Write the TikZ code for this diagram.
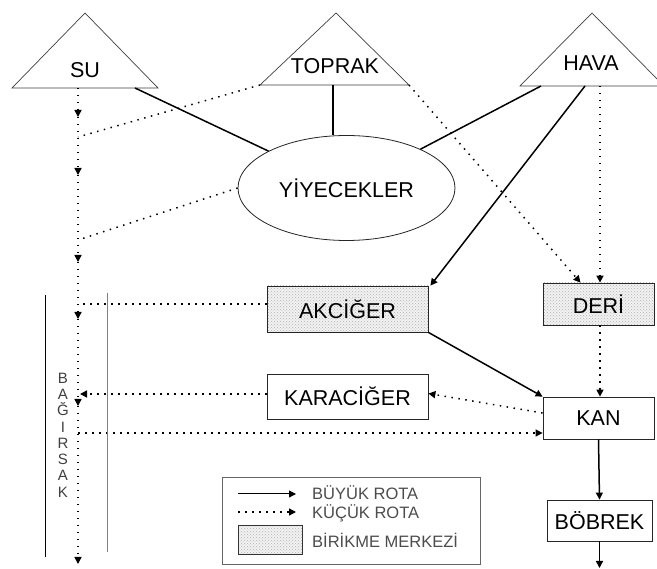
\documentclass[tikz,border=0pt]{standalone}
\usepackage{fontspec}
\setmainfont{Liberation Sans}
\usetikzlibrary{arrows.meta,patterns,shapes.geometric}
\begin{document}
\begin{tikzpicture}[x=1pt,y=-1pt,
  lbl/.style={font=\fontsize{21.5}{21.5}\selectfont},
  thinlbl/.style={font=\fontsize{16.5}{16.5}\selectfont, text=black!70},
  tri/.style={draw=black!75, line width=0.7pt},
  box/.style={draw=black!85, line width=0.8pt, inner sep=0pt, lbl},
  shaded/.style={preaction={fill=gray!10}, pattern=crosshatch dots, pattern color=gray!60},
  big/.style={line width=1.5pt},
  small/.style={line width=1.5pt, dash pattern=on 1.5pt off 5.5pt},
  tip/.style={-{Triangle[length=7pt,width=7pt]}},
]
\useasboundingbox (0,0) rectangle (657,569);
\clip (0,0) rectangle (657,569);
\fill[white] (0,0) rectangle (657,569);

% triangles
\draw[tri] (12,88) -- (85,13) -- (158,88) -- cycle;
\draw[tri] (260,85) -- (336,13) -- (409,85) -- cycle;
\draw[tri] (520,86) -- (592,13) -- (664,86) -- cycle;
\node[lbl] (su) at (85,70) {SU};
\node[lbl] (toprak) at (335,66) {TOPRAK};
\node[lbl] (hava) at (591,63) {HAVA};

\coordinate (su-r) at (135,88);
\coordinate (su-b) at (78,88);
\coordinate (tp-l) at (260,85);
\coordinate (tp-b) at (333,85);
\coordinate (tp-r) at (409,85);
\coordinate (hv-l) at (541,86);
\coordinate (hv-m) at (585,86);
\coordinate (hv-d) at (600,86);

% ellipse
\node[draw=black!85, line width=0.8pt, ellipse, minimum width=217pt, minimum height=105pt, inner sep=0pt, lbl] (yiy) at (346.5,188) {YİYECEKLER};

% boxes
\node[box, shaded, minimum width=161pt, minimum height=46pt] (akc) at (347.5,309) {AKCİĞER};
\node[box, shaded, minimum width=111pt, minimum height=42pt] (deri) at (598.5,304) {DERİ};
\node[box, fill=white, minimum width=161pt, minimum height=45pt] (kar) at (347.5,396.5) {KARACİĞER};
\node[box, fill=white, minimum width=111pt, minimum height=42pt] (kan) at (598.5,418) {KAN};
\node[box, fill=white, minimum width=105pt, minimum height=41pt] (bob) at (599.5,520.5) {BÖBREK};

% vertical route from SU
\coordinate (v1) at (78,137);
\coordinate (v2) at (78,240);
\coordinate (v3) at (78,304);
\coordinate (v4) at (80,394);
\coordinate (v5) at (78,433);
\coordinate (a1) at (78,117);
\coordinate (a2) at (78,175);
\coordinate (a3) at (78,262);
\coordinate (a4) at (78,319);
\coordinate (a5) at (78,406);
\coordinate (a6) at (78,564);
\draw[small, tip] (su-b) -- (a1);
\draw[small, tip] (a1) -- (a2);
\draw[small, tip] (a2) -- (a3);
\draw[small, tip] (a3) -- (a4);
\draw[small, tip] (a4) -- (a5);
\draw[small, tip] (a5) -- (a6);

% major routes
\draw[big] (su-r) -- (yiy);
\draw[big] (tp-b) -- (tp-b |- yiy.north);
\draw[big] (hv-l) -- (yiy);
\draw[big, tip] (hv-m) -- ([xshift=2pt]akc.north east);
\draw[big, tip] (akc.south east) -- (kan.north west);
\draw[big, tip] (kan.south) -- (bob.north);
\coordinate (bend) at (599.5,568);
\draw[big, tip] (bob.south) -- (bend);

% minor routes
\draw[small] (tp-l) -- (v1);
\draw[small] (yiy.west) -- (v2);
\draw[small] ([yshift=5pt]akc.west) -- (v3);
\draw[small, tip] (kar.west |- v4) -- (v4);
\draw[small, tip] (v5) -- (kan.west |- v5);
\draw[small, tip] ([yshift=5pt]kan.west) -- ([yshift=3pt]kar.east);
\draw[small, tip] (tp-r) -- ([xshift=-18pt]deri.north);
\draw[small, tip] (hv-d) -- (hv-d |- deri.north);
\draw[small, tip] (deri.south -| hv-d) -- (hv-d |- kan.north);

% intestine
\coordinate (l1a) at (45,295);
\coordinate (l1b) at (45,557);
\coordinate (l2a) at (107,293);
\coordinate (l2b) at (107,552);
\draw[line width=0.9pt] (l1a) -- (l1b);
\draw[line width=0.9pt, gray] (l2a) -- (l2b);
\node[align=center, font=\fontsize{15}{16.3}\selectfont, text=black!75, inner sep=0pt] (bag) at (63,435) {B\\A\\Ğ\\I\\R\\S\\A\\K};

% legend
\node[draw=black!60, line width=0.7pt, minimum width=258pt, minimum height=87pt, inner sep=0pt] (leg) at (351,520.5) {};
\coordinate (ls1) at (238,494);
\coordinate (le1) at (296,494);
\coordinate (ls2) at (238,512);
\coordinate (le2) at (296,512);
\draw[line width=1pt, tip] (ls1) -- (le1);
\draw[small, tip] (ls2) -- (le2);
\node[draw=black!80, line width=0.8pt, shaded, minimum width=64pt, minimum height=29pt, inner sep=0pt] (lsh) at (270,539.5) {};
\node[thinlbl, anchor=west, inner sep=0pt] (t1) at (312,493) {BÜYÜK ROTA};
\node[thinlbl, anchor=west, inner sep=0pt] (t2) at (312,513) {KÜÇÜK ROTA};
\node[thinlbl, anchor=west, inner sep=0pt] (t3) at (312,540) {BİRİKME MERKEZİ};
\end{tikzpicture}
\end{document}
